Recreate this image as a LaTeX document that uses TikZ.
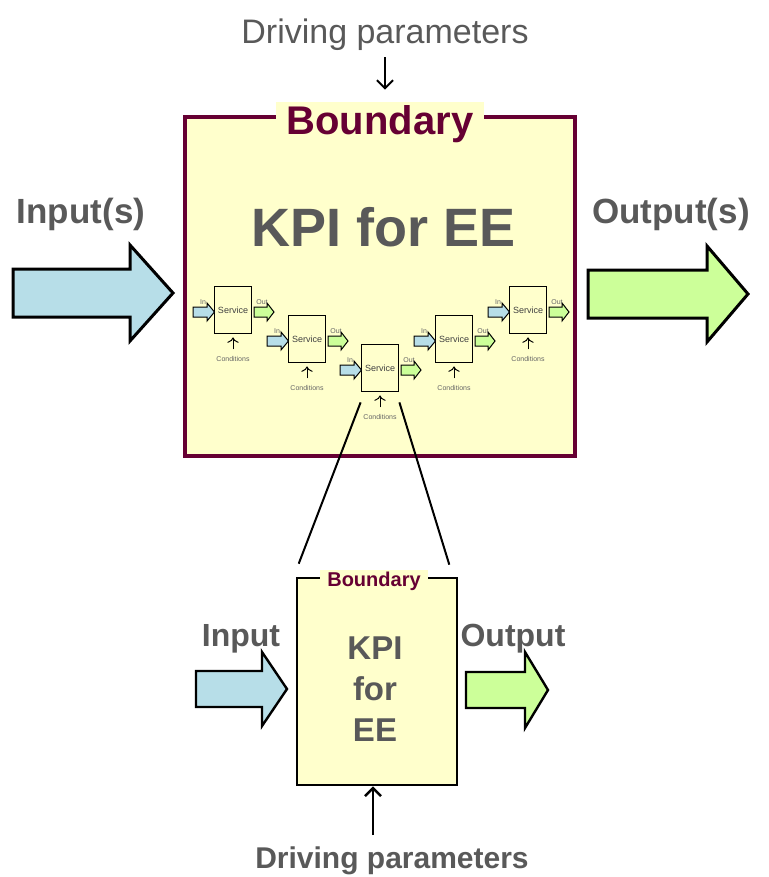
\documentclass[tikz,border=0pt]{standalone}
\usepackage{fontspec}
\setmainfont{Liberation Sans}
\usetikzlibrary{arrows.meta}

\definecolor{paleyellow}{HTML}{FFFFCC}
\definecolor{boundmaroon}{HTML}{660033}
\definecolor{labelgray}{HTML}{595959}
\definecolor{inblue}{HTML}{B7DEE8}
\definecolor{outgreen}{HTML}{CCFF99}

\tikzset{
    boundary/.style={draw=boundmaroon, line width=2pt, fill=paleyellow, inner sep=0pt},
    boundlabel/.style={fill=paleyellow, text=boundmaroon, font=\bfseries\fontsize{20}{24}\selectfont,
        inner xsep=5.5pt, inner ysep=2pt, anchor=base},
    bigtext/.style={text=labelgray, font=\bfseries\fontsize{17.5}{21}\selectfont, anchor=base},
    inflow/.style={draw=black, fill=inblue, line width=1.5pt},
    outflow/.style={draw=black, fill=outgreen, line width=1.5pt},
    svcbox/.style={draw=black, line width=0.9pt, fill=paleyellow, minimum width=18.5pt,
        minimum height=23.5pt, inner sep=0pt, text=black!75, font=\fontsize{4.5}{5}\selectfont},
    tinytext/.style={text=black!60, font=\fontsize{3.5}{4}\selectfont},
    drive/.style={-{Straight Barb[length=4pt,width=8pt]}, line width=1pt},
}

% block arrow: style, x start, x tip, y, shaft half, head half, head base x
\newcommand{\blockarrow}[7]{%
    \draw[#1] (#2,#4-#5) -- (#7,#4-#5) -- (#7,#4-#6) -- (#3,#4)
        -- (#7,#4+#6) -- (#7,#4+#5) -- (#2,#4+#5) -- cycle;
}

\begin{document}
\begin{tikzpicture}[x=0.5pt, y=-0.5pt]

    % Fix the page to the reference size
    \useasboundingbox (0,0) rectangle (768,877);

    % Outer system boundary
    \node[boundary, minimum width=195pt, minimum height=169.5pt] (outer) at (380,286.5) {};
    \node[boundlabel] (outerlabel) at (380,135) {Boundary};
    \node[bigtext, font=\bfseries\fontsize{27}{32}\selectfont] (outerkpi) at (384,247) {KPI for EE};

    % Driving parameters on top
    \node[text=labelgray, font=\fontsize{17}{20}\selectfont, anchor=base, inner sep=0pt] (drivetop) at (385,44) {Driving parameters};
    \draw[drive, shorten <=3pt, shorten >=6pt] (drivetop.south) -- (drivetop.south |- outerlabel.north);

    % Inputs and outputs of the whole system
    \node[bigtext] (inlabel) at (81,223) {Input(s)};
    \node[bigtext] (outlabel) at (671,223) {Output(s)};
    \blockarrow{inflow}{13}{173}{293}{24}{48}{130}
    \blockarrow{outflow}{588}{748}{294}{24}{48}{707}

    % Chain of services inside the boundary
    \foreach \i/\cx/\cy in {1/233/310, 2/307/339, 3/380/368, 4/454/339, 5/528/310} {
        \node[svcbox] (svc\i) at (\cx,\cy) {Service};
        \blockarrow{inflow, line width=0.5pt}{\cx-40}{\cx-18.5}{\cy+2}{5}{9}{\cx-26}
        \blockarrow{outflow, line width=0.5pt}{\cx+21}{\cx+41}{\cy+2}{5}{9}{\cx+34}
        \node[tinytext] (in\i) at (\cx-30,\cy-8) {In};
        \node[tinytext] (out\i) at (\cx+29,\cy-8) {Out};
        \node[tinytext] (cond\i) at (\cx,\cy+49) {Conditions};
        \draw[->, line width=0.5pt, shorten >=1.5pt] (cond\i) -- (svc\i);
    }

    % Single system, zoomed out of the middle service
    \node[boundary, draw=black, line width=1.3pt, minimum width=80pt, minimum height=103.5pt] (inner) at (377,681.5) {};
    \node[boundlabel, font=\bfseries\fontsize{10}{12}\selectfont, inner xsep=3.5pt, inner ysep=1pt] (innerlabel) at (374,586) {Boundary};
    \node[bigtext, font=\bfseries\fontsize{16.5}{20.5}\selectfont, align=center] (innerkpi) at (375,741) {KPI\\for\\EE};
    \draw[line width=1pt] ([yshift=-5pt]svc3.south west) -- ([shift={(1.5pt,6.5pt)}]inner.north west);
    \draw[line width=1pt] ([yshift=-5pt]svc3.south east) -- ([shift={(-4.5pt,6pt)}]inner.north east);

    % Input and output of the single system
    \node[bigtext, font=\bfseries\fontsize{16}{19}\selectfont] (singlein) at (241,646) {Input};
    \node[bigtext, font=\bfseries\fontsize{16}{19}\selectfont] (singleout) at (513,646) {Output};
    \blockarrow{inflow, line width=1.2pt}{196}{287}{689}{18}{37}{262}
    \blockarrow{outflow, line width=1.2pt}{466}{548}{690}{18}{38}{525}

    % Driving parameters below
    \node[bigtext, font=\bfseries\fontsize{15}{18}\selectfont] (drivebot) at (392,868) {Driving parameters};
    \coordinate (innerfoot) at ([xshift=-2pt]inner.south);
    \draw[drive, line width=1.3pt, shorten <=2pt] (innerfoot |- drivebot.north) -- (innerfoot);

\end{tikzpicture}
\end{document}
